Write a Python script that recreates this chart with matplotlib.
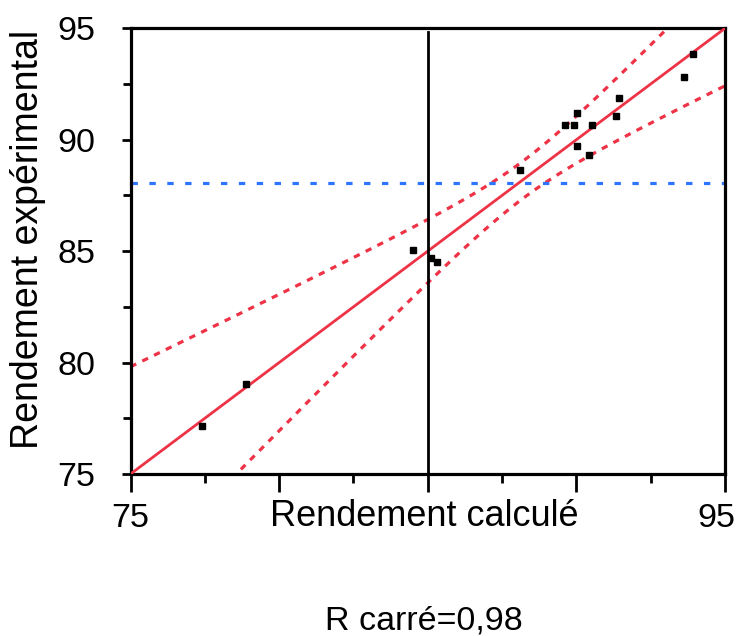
import numpy as np
import matplotlib
matplotlib.use("Agg")
import matplotlib.pyplot as plt
from matplotlib.ticker import FixedLocator
from matplotlib.transforms import ScaledTranslation

plt.rcParams['font.family'] = ['Liberation Sans', 'DejaVu Sans']

# Data
predicted = [77.39, 78.90, 84.51, 85.11, 85.32, 88.11, 89.61, 89.92, 90.02, 90.02,
             90.42, 90.52, 91.32, 91.42, 93.62, 93.92]
actual = [77.17, 79.04, 85.05, 84.68, 84.53, 88.66, 90.66, 90.66, 91.20, 89.73,
          89.33, 90.66, 91.07, 91.87, 92.80, 93.86]
mean_actual = 88.05
vline_x = 85.0
vline_top = 94.85
# confidence band parameters: half width = sqrt(a^2 + b^2 (x - xm)^2)
band_a = 0.837
band_b = 0.359
band_xm = 88.2
x_major = [75, 80, 85, 90, 95]
x_labels = ["75", "", "", "", "95"]
x_minor = [77.5, 82.5, 87.5, 92.5]
y_major = [75, 80, 85, 90, 95]
y_minor = [77.5, 82.5, 87.5, 92.5]
xlabel = "Rendement calculé"
ylabel = "Rendement expérimental"
rsq_text = "R carré=0,98"

red = '#EE3347'
blue = '#2F74FF'

fig = plt.figure(figsize=(7.43, 6.36), dpi=100)
ax = fig.add_axes([130.5 / 743, 1 - 474 / 636, (725 - 130.5) / 743, (474 - 28.3) / 636])
ax.set_xlim(75, 95)
ax.set_ylim(75, 95)

xs = np.linspace(75, 95, 400)
half = np.sqrt(band_a ** 2 + band_b ** 2 * (xs - band_xm) ** 2)
ax.plot(xs, xs + half, color=red, lw=2.3, linestyle=(0, (2.0, 2.1)), zorder=2)
ax.plot(xs, xs - half, color=red, lw=2.3, linestyle=(0, (2.0, 2.1)), zorder=2)
ax.plot([75, 95], [75, 95], color=red, lw=2.0, zorder=3)
ax.axhline(mean_actual, color=blue, lw=2.3, linestyle=(0, (2.0, 3.6)), zorder=2)
ax.plot([vline_x, vline_x], [75, vline_top], color='black', lw=2.0, zorder=3)
ax.plot(predicted, actual, linestyle='none', marker='s', markersize=4.8,
        color='black', zorder=4)

for s in ax.spines.values():
    s.set_linewidth(2.3)
    s.set_color('black')

ax.xaxis.set_major_locator(FixedLocator(x_major))
ax.xaxis.set_minor_locator(FixedLocator(x_minor))
ax.set_xticklabels(x_labels)
ax.yaxis.set_major_locator(FixedLocator(y_major))
ax.yaxis.set_minor_locator(FixedLocator(y_minor))
ax.tick_params(axis='x', which='major', length=13, width=2.0, labelsize=24.5, pad=8)
ax.tick_params(axis='x', which='minor', length=6.5, width=2.0)
ax.tick_params(axis='y', which='major', length=6.5, width=2.0, labelsize=24.5, pad=19)
ax.tick_params(axis='y', which='minor', length=6, width=2.0)

# keep the last x tick label inside the figure, as in the reference
last = ax.get_xticklabels()[-1]
last.set_transform(last.get_transform() + ScaledTranslation(-6 / 72, 0, fig.dpi_scale_trans))

fig.text(424 / 743, 1 - 517 / 636, xlabel, ha='center', va='center', fontsize=26)
fig.text(28 / 743, 1 - 239 / 636, ylabel, ha='center', va='center', fontsize=27,
         rotation=90)
fig.text(424 / 743, 1 - 621 / 636, rsq_text, ha='center', va='center', fontsize=24.5)

fig.savefig('out.png', dpi=100)
